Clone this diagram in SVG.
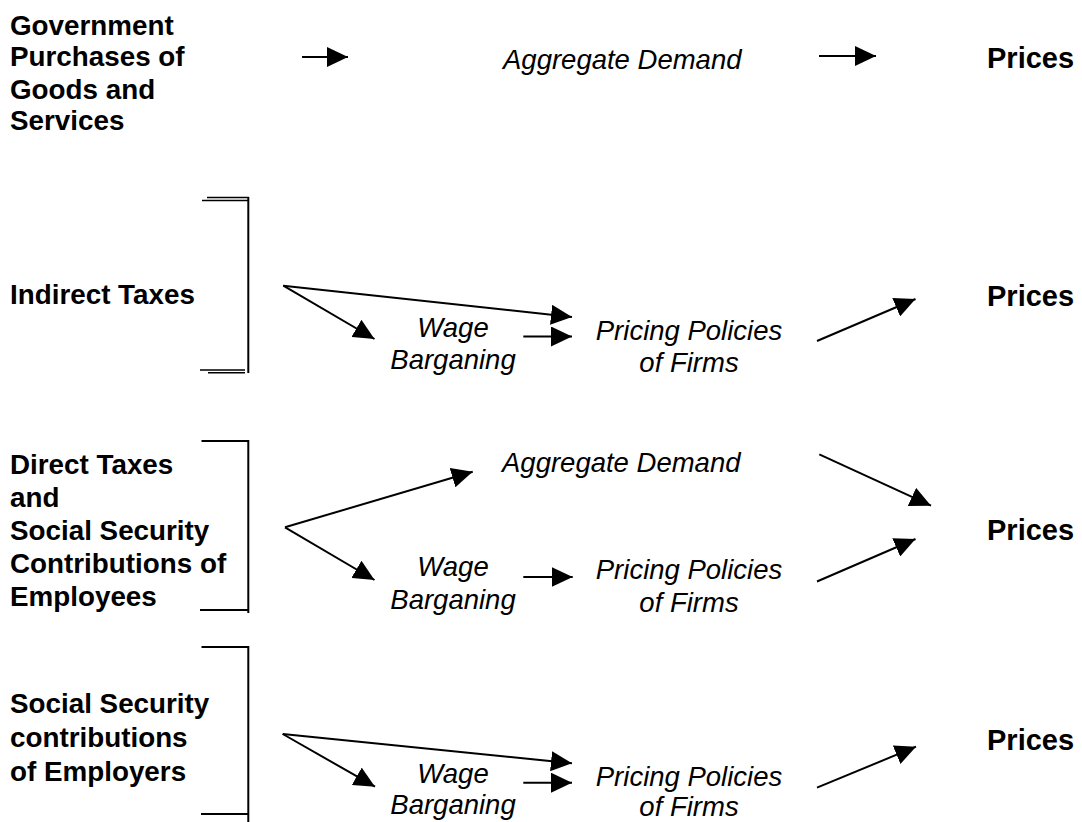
<svg xmlns="http://www.w3.org/2000/svg" width="1082" height="822" viewBox="0 0 1082 822">
<style>
.lbl{font-family:"Liberation Sans",Arial,sans-serif;font-weight:bold;font-size:27.8px;fill:#000}
.pr{font-family:"Liberation Sans",Arial,sans-serif;font-weight:bold;font-size:29px;fill:#000}
.it{font-family:"Liberation Sans",Arial,sans-serif;font-style:italic;font-size:27.5px;fill:#000}
.mid{text-anchor:middle}
.br{stroke:#000;stroke-width:2;fill:none}
.br1{stroke:#000;stroke-width:1.4;fill:none}
.ar{stroke:#000;stroke-width:2;fill:none;marker-end:url(#ah)}
</style>
<defs>
<marker id="ah" markerUnits="userSpaceOnUse" markerWidth="22" markerHeight="20" refX="21" refY="10" orient="auto" viewBox="0 0 22 20">
<path d="M0,0 L21,10 L0,20 z" fill="#000"/>
</marker>
</defs>
<rect width="1082" height="822" fill="#fff"/>

<g id="row1-source"><text class="lbl" x="10" y="35">Government</text><text class="lbl" x="10" y="66">Purchases of</text><text class="lbl" x="10" y="99">Goods and</text><text class="lbl" x="10" y="130">Services</text></g>
<g id="row1-ad"><text class="it" x="503" y="69">Aggregate Demand</text></g>
<g id="row1-prices"><text class="pr" x="987" y="68">Prices</text></g>

<g id="row2-source"><text class="lbl" x="10" y="304">Indirect Taxes</text>
<path class="br1" d="M207,197.5 H249 M202,200.5 H249 M200,370 H245 M208,372.7 H245"/><path class="br" d="M248.3,197 V373"/></g>
<g id="row2-wage"><text class="it mid" x="453" y="337">Wage</text><text class="it mid" x="453" y="369">Barganing</text></g>
<g id="row2-pricing"><text class="it mid" x="689" y="340">Pricing Policies</text><text class="it mid" x="689" y="372">of Firms</text></g>
<g id="row2-prices"><text class="pr" x="987" y="306">Prices</text></g>

<g id="row3-source"><text class="lbl" x="10" y="474">Direct Taxes</text><text class="lbl" x="10" y="507">and</text><text class="lbl" x="10" y="540">Social Security</text><text class="lbl" x="10" y="573">Contributions of</text><text class="lbl" x="10" y="606">Employees</text>
<path class="br" d="M201.5,441 H248.3 V613 M200,610 H248.3"/></g>
<g id="row3-ad"><text class="it" x="502" y="472">Aggregate Demand</text></g>
<g id="row3-wage"><text class="it mid" x="453" y="576">Wage</text><text class="it mid" x="453" y="609">Barganing</text></g>
<g id="row3-pricing"><text class="it mid" x="689" y="579">Pricing Policies</text><text class="it mid" x="689" y="612">of Firms</text></g>
<g id="row3-prices"><text class="pr" x="987" y="540">Prices</text></g>

<g id="row4-source"><text class="lbl" x="10" y="713">Social Security</text><text class="lbl" x="10" y="747">contributions</text><text class="lbl" x="10" y="781">of Employers</text>
<path class="br" d="M201.5,647 H248.3 V822 M201,814 H248.3"/></g>
<g id="row4-wage"><text class="it mid" x="453" y="783">Wage</text><text class="it mid" x="453" y="814">Barganing</text></g>
<g id="row4-pricing"><text class="it mid" x="689" y="786">Pricing Policies</text><text class="it mid" x="689" y="816">of Firms</text></g>
<g id="row4-prices"><text class="pr" x="987" y="750">Prices</text></g>

<g id="connectors">
<line class="ar" x1="302" y1="57" x2="348" y2="57"/>
<line class="ar" x1="819" y1="56" x2="876" y2="56"/>

<line class="ar" x1="283.3" y1="285.7" x2="572" y2="317"/>
<line class="ar" x1="283.3" y1="285.7" x2="374.5" y2="339"/>
<line class="ar" x1="523.3" y1="336.5" x2="572" y2="336.5"/>
<line class="ar" x1="817" y1="341" x2="915.5" y2="299"/>

<line class="ar" x1="285" y1="527.3" x2="472.7" y2="471.7"/>
<line class="ar" x1="285" y1="527.3" x2="374.5" y2="580"/>
<line class="ar" x1="523.3" y1="577" x2="572.7" y2="577"/>
<line class="ar" x1="819.3" y1="454.3" x2="931" y2="505.7"/>
<line class="ar" x1="817" y1="581.5" x2="915.5" y2="539"/>

<line class="ar" x1="282.7" y1="734" x2="572" y2="763.3"/>
<line class="ar" x1="282.7" y1="734" x2="375" y2="786.7"/>
<line class="ar" x1="523.3" y1="782.7" x2="572" y2="782.7"/>
<line class="ar" x1="817" y1="787.7" x2="916" y2="746.7"/>
</g>
</svg>
